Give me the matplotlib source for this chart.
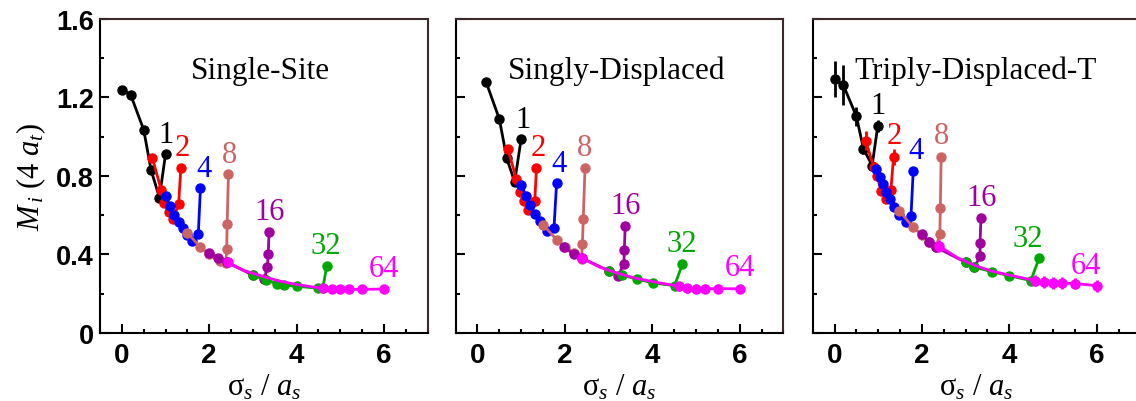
import matplotlib
matplotlib.use('Agg')
import matplotlib.pyplot as plt
from matplotlib.ticker import MultipleLocator

plt.rcParams['font.family'] = ['Liberation Serif', 'DejaVu Serif']
plt.rcParams['mathtext.fontset'] = 'custom'
plt.rcParams['mathtext.rm'] = 'Liberation Serif'
plt.rcParams['mathtext.it'] = 'Liberation Serif:italic'

# smearing levels and their colours
levels = [1, 2, 4, 8, 16, 32, 64]
colors = ['#000000', '#ff0000', '#0000ff', '#cd6464', '#a000a0', '#00a800', '#ff00ff']

# ---- Single-Site ----
ss1_x = [0.0, 0.2, 0.5, 0.67, 0.86, 1.0]
ss1_y = [1.24, 1.215, 1.036, 0.83, 0.69, 0.91]
ss2_x = [0.7, 0.9, 0.97, 1.07, 1.16, 1.3, 1.35]
ss2_y = [0.89, 0.73, 0.66, 0.615, 0.58, 0.655, 0.84]
ss4_x = [1.0, 1.1, 1.2, 1.3, 1.4, 1.5, 1.6, 1.75, 1.8]
ss4_y = [0.70, 0.645, 0.60, 0.565, 0.535, 0.50, 0.47, 0.505, 0.74]
ss8_x = [1.5, 1.8, 2.0, 2.25, 2.38, 2.4, 2.41, 2.44]
ss8_y = [0.51, 0.437, 0.40, 0.365, 0.357, 0.428, 0.555, 0.81]
ss16_x = [2.0, 2.2, 2.4, 3.0, 3.26, 3.33, 3.35, 3.37]
ss16_y = [0.41, 0.38, 0.36, 0.295, 0.275, 0.335, 0.40, 0.516]
ss32_x = [3.0, 3.3, 3.56, 3.7, 4.0, 4.5, 4.6, 4.69]
ss32_y = [0.295, 0.27, 0.25, 0.245, 0.238, 0.228, 0.227, 0.343]
ss64_x = [2.42, 2.8, 3.2, 3.6, 4.0, 4.6, 4.8, 5.0, 5.2, 5.5, 6.0]
ss64_y = [0.36, 0.318, 0.29, 0.265, 0.247, 0.227, 0.224, 0.224, 0.223, 0.222, 0.224]
ss_err = [0.008, 0.008, 0.008, 0.008, 0.008, 0.01, 0.02]

# ---- Singly-Displaced ----
sd1_x = [0.2, 0.5, 0.67, 0.85, 1.0]
sd1_y = [1.277, 1.09, 0.89, 0.77, 0.99]
sd2_x = [0.69, 0.89, 0.97, 1.07, 1.16, 1.31, 1.35]
sd2_y = [0.94, 0.785, 0.72, 0.67, 0.627, 0.674, 0.84]
sd4_x = [1.0, 1.1, 1.2, 1.31, 1.43, 1.58, 1.75, 1.81]
sd4_y = [0.754, 0.70, 0.65, 0.606, 0.572, 0.52, 0.533, 0.764]
sd8_x = [1.5, 1.81, 2.0, 2.2, 2.38, 2.40, 2.42, 2.46]
sd8_y = [0.552, 0.475, 0.44, 0.405, 0.377, 0.453, 0.58, 0.84]
sd16_x = [1.98, 2.2, 2.4, 3.01, 3.22, 3.35, 3.36, 3.38]
sd16_y = [0.44, 0.40, 0.38, 0.317, 0.292, 0.352, 0.425, 0.544]
sd32_x = [3.0, 3.3, 3.64, 4.02, 4.51, 4.69]
sd32_y = [0.317, 0.295, 0.275, 0.255, 0.241, 0.352]
sd64_x = [2.4, 2.8, 3.2, 3.6, 4.0, 4.61, 4.8, 5.0, 5.2, 5.5, 6.0]
sd64_y = [0.38, 0.335, 0.305, 0.28, 0.262, 0.238, 0.227, 0.226, 0.226, 0.226, 0.225]
sd_err = [0.02, 0.01, 0.01, 0.01, 0.01, 0.015, 0.022]

# ---- Triply-Displaced-T ----
td1_x = [0.0, 0.2, 0.5, 0.66, 0.86, 0.99]
td1_y = [1.294, 1.264, 1.104, 0.94, 0.853, 1.056]
td1_e = [0.09, 0.1, 0.05, 0.03, 0.02, 0.03]
td2_x = [0.71, 0.9, 0.97, 1.07, 1.18, 1.29, 1.35]
td2_y = [0.98, 0.844, 0.80, 0.725, 0.683, 0.73, 0.895]
td2_e = [0.05, 0.02, 0.02, 0.02, 0.02, 0.02, 0.04]
td4_x = [0.95, 1.03, 1.1, 1.18, 1.28, 1.37, 1.48, 1.64, 1.75, 1.80]
td4_y = [0.836, 0.793, 0.759, 0.717, 0.683, 0.64, 0.60, 0.564, 0.598, 0.824]
td8_x = [1.48, 1.80, 2.0, 2.17, 2.32, 2.41, 2.42, 2.44]
td8_y = [0.623, 0.538, 0.50, 0.465, 0.437, 0.504, 0.635, 0.895]
td16_x = [1.99, 2.17, 2.32, 3.0, 3.2, 3.33, 3.33, 3.35]
td16_y = [0.504, 0.465, 0.437, 0.36, 0.335, 0.39, 0.459, 0.586]
td32_x = [3.0, 3.2, 3.61, 4.0, 4.49, 4.68]
td32_y = [0.36, 0.335, 0.312, 0.292, 0.267, 0.38]
td64_x = [2.40, 2.8, 3.2, 3.6, 4.0, 4.59, 4.8, 5.0, 5.2, 5.5, 6.0]
td64_y = [0.442, 0.385, 0.345, 0.315, 0.295, 0.267, 0.258, 0.255, 0.254, 0.252, 0.241]
td_err = [td1_e, td2_e, 0.02, 0.02, 0.02, 0.02, 0.03]

# label positions of the level numbers
ss_lab_x = [1.01, 1.39, 1.89, 2.46, 3.37, 4.66, 6.0]
ss_lab_y = [1.01, 0.946, 0.84, 0.91, 0.62, 0.445, 0.33]
sd_lab_x = [1.03, 1.39, 1.87, 2.46, 3.39, 4.67, 6.0]
sd_lab_y = [1.09, 0.946, 0.866, 0.946, 0.652, 0.457, 0.335]
td_lab_x = [0.99, 1.37, 1.87, 2.44, 3.37, 4.41, 5.75]
td_lab_y = [1.16, 1.005, 0.929, 1.005, 0.69, 0.48, 0.343]

panels = [
    ('Single-Site', 3.18,
     [(ss1_x, ss1_y), (ss2_x, ss2_y), (ss4_x, ss4_y), (ss8_x, ss8_y),
      (ss16_x, ss16_y), (ss32_x, ss32_y), (ss64_x, ss64_y)],
     ss_err, ss_lab_x, ss_lab_y),
    ('Singly-Displaced', 3.19,
     [(sd1_x, sd1_y), (sd2_x, sd2_y), (sd4_x, sd4_y), (sd8_x, sd8_y),
      (sd16_x, sd16_y), (sd32_x, sd32_y), (sd64_x, sd64_y)],
     sd_err, sd_lab_x, sd_lab_y),
    ('Triply-Displaced-T', 3.23,
     [(td1_x, td1_y), (td2_x, td2_y), (td4_x, td4_y), (td8_x, td8_y),
      (td16_x, td16_y), (td32_x, td32_y), (td64_x, td64_y)],
     td_err, td_lab_x, td_lab_y),
]

fig = plt.figure(figsize=(11.36, 4.02), dpi=100)
lefts = [0.0880, 0.4011, 0.7154]

for i, (title, tx, series, errs, lab_x, lab_y) in enumerate(panels):
    ax = fig.add_axes([lefts[i], 0.1692, 0.2885, 0.7811])
    for k, (xs, ys) in enumerate(series):
        c = colors[k]
        e = errs[k]
        if isinstance(e, float):
            e = [e] * len(xs)
        # magenta curve: intermediate points only shape the line
        if levels[k] == 64:
            ax.plot(xs, ys, '-', color=c, lw=2.0, zorder=2 + k)
            idx = [0] + list(range(5, len(xs)))
            xs = [xs[j] for j in idx]
            ys = [ys[j] for j in idx]
            e = [e[j] for j in idx]
            ax.errorbar(xs, ys, yerr=e, fmt='o', color=c, ms=6.5, elinewidth=2.0,
                        capsize=0, zorder=2 + k)
        else:
            ax.errorbar(xs, ys, yerr=e, fmt='o-', color=c, ms=6.5, lw=2.0,
                        elinewidth=2.0, capsize=0, zorder=2 + k)
        ax.text(lab_x[k], lab_y[k], str(levels[k]), color=c, fontsize=22,
                ha='center', va='center', zorder=10)

    ax.text(tx, 1.337, title, fontsize=22.5, ha='center', va='center')

    ax.set_xlim(-0.5, 7.0)
    ax.set_ylim(0, 1.6)
    ax.xaxis.set_major_locator(MultipleLocator(2))
    ax.xaxis.set_minor_locator(MultipleLocator(0.5))
    ax.yaxis.set_major_locator(MultipleLocator(0.4))
    ax.yaxis.set_minor_locator(MultipleLocator(0.2))
    ax.tick_params(which='both', direction='in', width=1.5, top=False, right=False)
    ax.tick_params(which='major', length=6.5)
    ax.tick_params(which='minor', length=3.2)
    ax.tick_params(axis='x', pad=6.5)
    ax.tick_params(axis='y', pad=4.5)
    for lab in ax.get_xticklabels():
        lab.set_fontfamily('Liberation Sans')
        lab.set_fontweight('bold')
        lab.set_fontsize(20)
    for lab in ax.get_yticklabels():
        lab.set_fontfamily('Liberation Sans')
        lab.set_fontweight('bold')
        lab.set_fontsize(19.5)
    for side in ['left', 'bottom']:
        ax.spines[side].set_linewidth(1.5)
        ax.spines[side].set_color('black')
    for side in ['top', 'right']:
        ax.spines[side].set_linewidth(1.5)
        ax.spines[side].set_color('#3c2a2a')

    ax.set_xlabel('σ$_s$ / $a_s$', fontsize=22, labelpad=3)
    if i == 0:
        ax.yaxis.set_major_formatter(plt.FuncFormatter(lambda v, p: '0' if v == 0 else f'{v:.1f}'))
        ax.set_ylabel(r'$M_{\,i}\ \mathit{(4\ a_t)}$', fontsize=22, labelpad=6)
    else:
        ax.set_yticklabels([])

fig.savefig('out.png', dpi=100)
